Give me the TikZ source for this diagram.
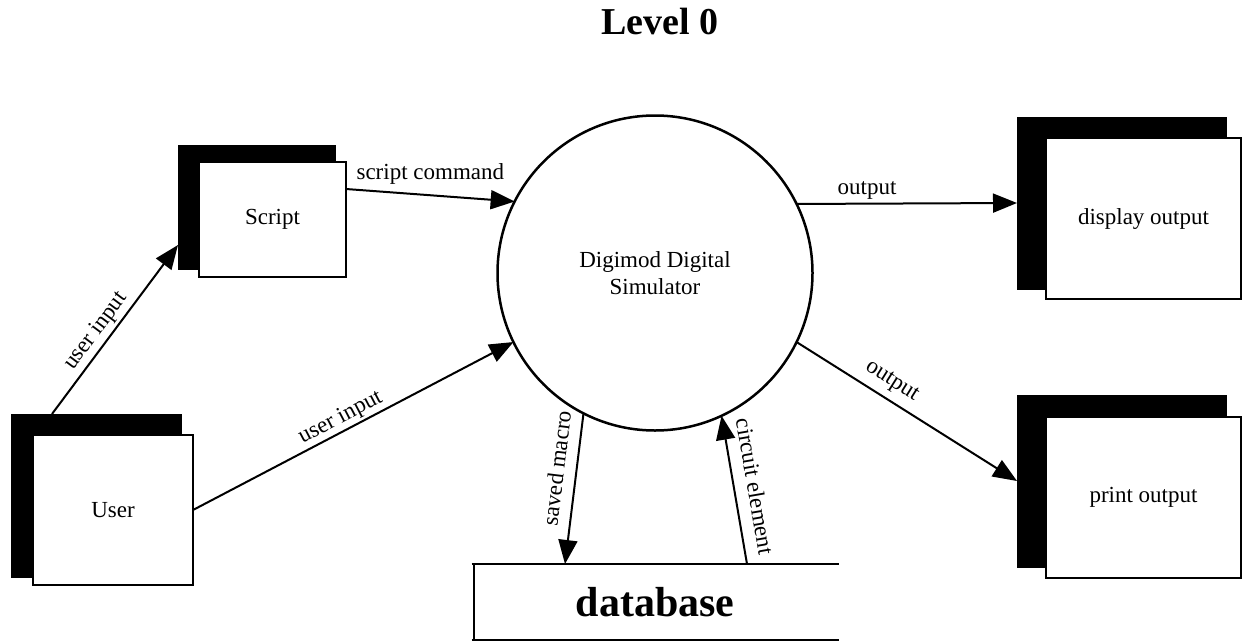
\documentclass[tikz,border=0pt]{standalone}
\usepackage{fontspec}
\setmainfont{Liberation Serif}
\usetikzlibrary{arrows.meta}
\begin{document}
\begin{tikzpicture}[x=1pt,y=-1pt,
  every node/.style={inner sep=0pt, outer sep=0pt},
  lbl/.style={font=\fontsize{23}{27}\selectfont, inner sep=2pt},
  backbox/.style={fill=black, draw=black, line width=1pt},
  frontbox/.style={fill=white, draw=black, line width=2pt, font=\fontsize{23}{27}\selectfont, align=center},
  flow/.style={line width=2pt, -{Triangle[length=24pt,width=19pt]}},
  edge/.style={line width=2pt}
]
\useasboundingbox (0,0) rectangle (1250,643);

% title
\node[font=\bfseries\fontsize{38}{44}\selectfont] (title) at (660,22) {Level 0};

% external entities (shadow + front)
\node[backbox, minimum width=157pt, minimum height=124pt] (scriptback) at (256.5,207) {};
\node[frontbox, minimum width=147pt, minimum height=115pt] (script) at (272.5,219.5) {Script};

\node[backbox, minimum width=170pt, minimum height=163pt] (userback) at (96,495.5) {};
\node[frontbox, minimum width=160pt, minimum height=150pt] (user) at (113,510) {User};

\node[backbox, minimum width=209pt, minimum height=172pt] (dispback) at (1121.5,203) {};
\node[frontbox, minimum width=195pt, minimum height=161pt] (disp) at (1143.5,218.5) {display output};

\node[backbox, minimum width=209pt, minimum height=172pt] (printback) at (1121.5,481) {};
\node[frontbox, minimum width=195pt, minimum height=161pt] (print) at (1143.5,497.5) {print output};

% process
\node[circle, draw=black, line width=2.5pt, minimum size=315pt, align=center,
      font=\fontsize{23}{27}\selectfont] (sim) at (655,273) {Digimod Digital\\Simulator};

% data store
\node[minimum width=367pt, minimum height=76pt, font=\bfseries\fontsize{42}{48}\selectfont] (db) at (655,602) {database};
\draw[edge] (db.north west) -- (db.north east);
\draw[edge] (db.south west) -- (db.south east);
\draw[edge] ([xshift=2pt]db.north west) -- ([xshift=2pt]db.south west);

% flows
\draw[flow] ([xshift=41pt]userback.north west) -- node[lbl, sloped, above=2pt, pos=0.44] {user input} ([yshift=24pt]scriptback.south west);
\draw[flow] ([yshift=30.5pt]script.east) -- node[lbl, above=9pt, pos=0.5] {script command} (sim.153.8);
\draw[flow] (user.east) -- node[lbl, sloped, above=1pt, pos=0.48] {user input} (sim.206.9);
\draw[flow] (sim.26.9) -- node[lbl, above=2pt, pos=0.32] {output} (dispback.west);
\draw[flow] (sim.-26.9) -- node[lbl, sloped, above=6pt, pos=0.39] {output} (printback.west);
\draw[flow] (sim.243.4) -- node[lbl, sloped, above=10pt, pos=0.38] {saved macro} ([xshift=93.5pt]db.north west);
\draw[flow] ([xshift=275.5pt]db.north west) -- node[lbl, sloped, above=11pt, pos=0.5] {circuit element} (sim.295.9);
\end{tikzpicture}
\end{document}
